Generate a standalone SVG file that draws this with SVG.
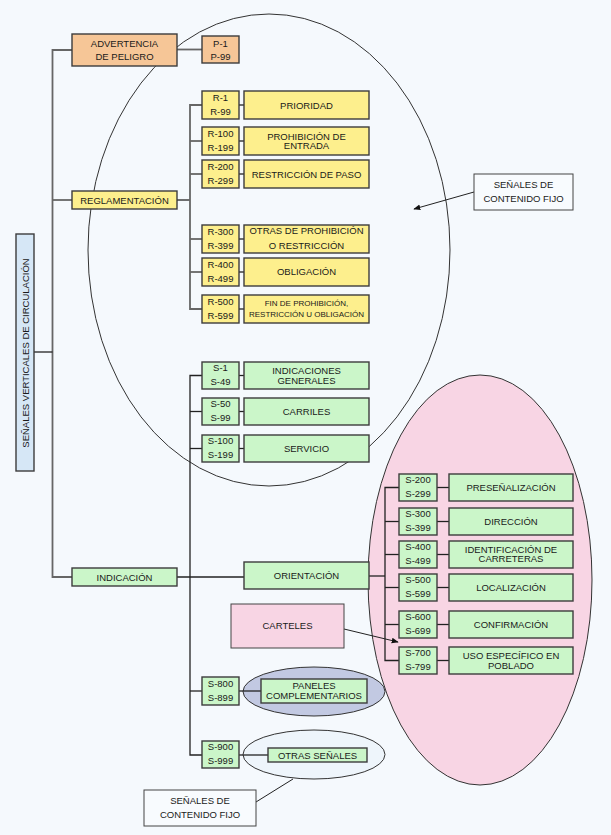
<svg xmlns="http://www.w3.org/2000/svg" width="611" height="835" viewBox="0 0 611 835">
<defs>
<style>
text{font-family:"Liberation Sans",Arial,sans-serif;font-size:9.5px;fill:#1a1a1a;text-anchor:middle}
.b{stroke:#3c3c3c;stroke-width:1.4}
.o{fill:#f6c697}
.y{fill:#fdef8d}
.g{fill:#cbf6c9}
.p{fill:#f8d5e4}
.w{fill:#f7fafd}
.t{fill:#d6e7f6}
.ln{stroke:#222;stroke-width:1.3;fill:none}
.gl{stroke:#666;stroke-width:1.8;fill:none}
.s{font-size:8px}
</style>
<marker id="ah" viewBox="0 0 10 10" refX="9" refY="5" markerWidth="7" markerHeight="7" orient="auto">
<path d="M0,1 L10,5 L0,9 z" fill="#111"/>
</marker>
</defs>
<rect x="0" y="0" width="611" height="835" fill="#f5f9fd"/>

<g id="ellipses">
<ellipse cx="480" cy="580" rx="112" ry="205" fill="#f8d5e4" stroke="#333" stroke-width="1"/>
<ellipse cx="269" cy="250" rx="181" ry="236" fill="none" stroke="#333" stroke-width="1"/>
<ellipse cx="314" cy="691.5" rx="71" ry="24.5" fill="#c2c9e2" stroke="#333" stroke-width="1"/>
<ellipse cx="314" cy="754.5" rx="71" ry="24.5" fill="#eef5fb" stroke="#333" stroke-width="1"/>
</g>

<g id="connectors">
<polyline class="gl" points="72,50 52.5,50 52.5,577 72,577"/>
<line class="gl" x1="52.5" y1="200" x2="72" y2="200"/>
<line class="ln" x1="34" y1="352" x2="52.5" y2="352"/>
<line class="gl" x1="177" y1="49.5" x2="202" y2="49.5"/>
<line class="ln" x1="177" y1="200" x2="190" y2="200" stroke-width="2.2"/>
<polyline class="gl" points="202,105 190,105 190,309 202,309"/>
<line class="gl" x1="190" y1="141" x2="202" y2="141"/>
<line class="gl" x1="190" y1="174" x2="202" y2="174"/>
<line class="gl" x1="190" y1="239" x2="202" y2="239"/>
<line class="gl" x1="190" y1="272" x2="202" y2="272"/>
<g class="ln">
<line x1="239" y1="105" x2="244" y2="105"/>
<line x1="239" y1="141" x2="244" y2="141"/>
<line x1="239" y1="174" x2="244" y2="174"/>
<line x1="239" y1="239" x2="244" y2="239"/>
<line x1="239" y1="272" x2="244" y2="272"/>
<line x1="239" y1="309" x2="244" y2="309"/>
<polyline points="202,375.5 190,375.5 190,755 202,755"/>
<line x1="190" y1="411.5" x2="202" y2="411.5"/>
<line x1="190" y1="448.5" x2="202" y2="448.5"/>
<line x1="190" y1="691" x2="202" y2="691"/>
<line x1="177" y1="577" x2="244" y2="577"/>
<line x1="239" y1="375.5" x2="244" y2="375.5"/>
<line x1="239" y1="411.5" x2="244" y2="411.5"/>
<line x1="239" y1="448.5" x2="244" y2="448.5"/>
<line x1="369" y1="576" x2="385" y2="576"/>
<polyline points="399,487.5 385,487.5 385,660.5 399,660.5"/>
<line x1="385" y1="521.5" x2="399" y2="521.5"/>
<line x1="385" y1="554.5" x2="399" y2="554.5"/>
<line x1="385" y1="587.5" x2="399" y2="587.5"/>
<line x1="385" y1="624.5" x2="399" y2="624.5"/>
<line x1="437" y1="487.5" x2="449" y2="487.5"/>
<line x1="437" y1="521.5" x2="449" y2="521.5"/>
<line x1="437" y1="554.5" x2="449" y2="554.5"/>
<line x1="437" y1="587.5" x2="449" y2="587.5"/>
<line x1="437" y1="624.5" x2="449" y2="624.5"/>
<line x1="437" y1="660.5" x2="449" y2="660.5"/>
<line x1="239" y1="691" x2="261" y2="691"/>
<line x1="239" y1="755" x2="268" y2="755"/>
</g>
<line x1="474" y1="192" x2="414" y2="209" stroke="#222" stroke-width="1" marker-end="url(#ah)"/>
<line x1="344" y1="629" x2="398" y2="642" stroke="#222" stroke-width="1" marker-end="url(#ah)"/>
<line x1="256" y1="802" x2="293" y2="779" stroke="#222" stroke-width="1"/>
</g>

<g id="n-root"><rect class="b t" x="16" y="234" width="18" height="237"/><text transform="translate(28.5,353) rotate(-90)">SEÑALES VERTICALES DE CIRCULACIÓN</text></g>

<g id="n-advertencia"><rect class="b o" x="72" y="34" width="105" height="32"/><text x="124.5" y="47">ADVERTENCIA</text><text x="124.5" y="60">DE PELIGRO</text></g>
<g id="n-p"><rect class="b o" x="202" y="36" width="37" height="27"/><text x="220.5" y="47">P-1</text><text x="220.5" y="59.5">P-99</text></g>

<g id="n-reglamentacion"><rect class="b y" x="72" y="191" width="105" height="18"/><text x="124.5" y="203.5">REGLAMENTACIÓN</text></g>

<g id="n-r1"><rect class="b y" x="202" y="91" width="37" height="28"/><text x="220.5" y="100.5">R-1</text><text x="220.5" y="115">R-99</text></g>
<g id="n-prioridad"><rect class="b y" x="244" y="91" width="125" height="28"/><text x="306.5" y="108.5">PRIORIDAD</text></g>
<g id="n-r100"><rect class="b y" x="202" y="127" width="37" height="28"/><text x="220.5" y="136.5">R-100</text><text x="220.5" y="151">R-199</text></g>
<g id="n-prohibicion"><rect class="b y" x="244" y="127" width="125" height="28"/><text x="306.5" y="139.5">PROHIBICIÓN DE</text><text x="306.5" y="149">ENTRADA</text></g>
<g id="n-r200"><rect class="b y" x="202" y="160" width="37" height="28"/><text x="220.5" y="169.5">R-200</text><text x="220.5" y="184">R-299</text></g>
<g id="n-restriccion"><rect class="b y" x="244" y="160" width="125" height="28"/><text x="306.5" y="177.5">RESTRICCIÓN DE PASO</text></g>
<g id="n-r300"><rect class="b y" x="202" y="225" width="37" height="28"/><text x="220.5" y="234.5">R-300</text><text x="220.5" y="249">R-399</text></g>
<g id="n-otras"><rect class="b y" x="244" y="225" width="125" height="28"/><text x="306.5" y="234">OTRAS DE PROHIBICIÓN</text><text x="306.5" y="249">O RESTRICCIÓN</text></g>
<g id="n-r400"><rect class="b y" x="202" y="258" width="37" height="28"/><text x="220.5" y="267.5">R-400</text><text x="220.5" y="282">R-499</text></g>
<g id="n-obligacion"><rect class="b y" x="244" y="258" width="125" height="28"/><text x="306.5" y="275">OBLIGACIÓN</text></g>
<g id="n-r500"><rect class="b y" x="202" y="295" width="37" height="28"/><text x="220.5" y="304.5">R-500</text><text x="220.5" y="319">R-599</text></g>
<g id="n-fin"><rect class="b y" x="244" y="295" width="125" height="28"/><text class="s" x="306.5" y="306">FIN DE PROHIBICIÓN,</text><text class="s" x="306.5" y="317">RESTRICCIÓN U OBLIGACIÓN</text></g>

<g id="n-fijo1"><rect x="474" y="174" width="99" height="36" fill="#f8fbfe" stroke="#444" stroke-width="1"/><text x="523.5" y="187.5">SEÑALES DE</text><text x="523.5" y="201.5">CONTENIDO FIJO</text></g>

<g id="n-s1"><rect class="b g" x="202" y="362" width="37" height="27"/><text x="220.5" y="370.5">S-1</text><text x="220.5" y="385">S-49</text></g>
<g id="n-generales"><rect class="b g" x="244" y="362" width="125" height="27"/><text x="306.5" y="374">INDICACIONES</text><text x="306.5" y="383.5">GENERALES</text></g>
<g id="n-s50"><rect class="b g" x="202" y="398" width="37" height="27"/><text x="220.5" y="406.5">S-50</text><text x="220.5" y="421">S-99</text></g>
<g id="n-carriles"><rect class="b g" x="244" y="398" width="125" height="27"/><text x="306.5" y="414.5">CARRILES</text></g>
<g id="n-s100"><rect class="b g" x="202" y="435" width="37" height="27"/><text x="220.5" y="443.5">S-100</text><text x="220.5" y="458">S-199</text></g>
<g id="n-servicio"><rect class="b g" x="244" y="435" width="125" height="27"/><text x="306.5" y="451.5">SERVICIO</text></g>

<g id="n-indicacion"><rect class="b g" x="72" y="568" width="105" height="18"/><text x="124.5" y="580.5">INDICACIÓN</text></g>
<g id="n-orientacion"><rect class="b g" x="244" y="562" width="125" height="27"/><text x="306.5" y="579">ORIENTACIÓN</text></g>
<g id="n-carteles"><rect x="231" y="604" width="113" height="44" fill="#f8d5e4" stroke="#444" stroke-width="1"/><text x="287.5" y="629">CARTELES</text></g>

<g id="n-s200"><rect class="b g" x="399" y="474" width="38" height="27"/><text x="418" y="482.5">S-200</text><text x="418" y="497">S-299</text></g>
<g id="n-presenal"><rect class="b g" x="449" y="474" width="124" height="27"/><text x="511" y="490.5">PRESEÑALIZACIÓN</text></g>
<g id="n-s300"><rect class="b g" x="399" y="508" width="38" height="27"/><text x="418" y="516.5">S-300</text><text x="418" y="531">S-399</text></g>
<g id="n-direccion"><rect class="b g" x="449" y="508" width="124" height="27"/><text x="511" y="524.5">DIRECCIÓN</text></g>
<g id="n-s400"><rect class="b g" x="399" y="541" width="38" height="27"/><text x="418" y="549.5">S-400</text><text x="418" y="564">S-499</text></g>
<g id="n-identificacion"><rect class="b g" x="449" y="541" width="124" height="27"/><text x="511" y="552.5">IDENTIFICACIÓN DE</text><text x="511" y="562">CARRETERAS</text></g>
<g id="n-s500"><rect class="b g" x="399" y="574" width="38" height="27"/><text x="418" y="582.5">S-500</text><text x="418" y="597">S-599</text></g>
<g id="n-localizacion"><rect class="b g" x="449" y="574" width="124" height="27"/><text x="511" y="590.5">LOCALIZACIÓN</text></g>
<g id="n-s600"><rect class="b g" x="399" y="611" width="38" height="27"/><text x="418" y="619.5">S-600</text><text x="418" y="634">S-699</text></g>
<g id="n-confirmacion"><rect class="b g" x="449" y="611" width="124" height="27"/><text x="511" y="627.5">CONFIRMACIÓN</text></g>
<g id="n-s700"><rect class="b g" x="399" y="647" width="38" height="27"/><text x="418" y="655.5">S-700</text><text x="418" y="670">S-799</text></g>
<g id="n-uso"><rect class="b g" x="449" y="647" width="124" height="27"/><text x="511" y="659">USO ESPECÍFICO EN</text><text x="511" y="669">POBLADO</text></g>

<g id="n-s800"><rect class="b g" x="202" y="677" width="37" height="28"/><text x="220.5" y="687">S-800</text><text x="220.5" y="701">S-899</text></g>
<g id="n-paneles"><rect class="b g" x="261" y="679" width="106" height="24"/><text x="314" y="689">PANELES</text><text x="314" y="699">COMPLEMENTARIOS</text></g>
<g id="n-s900"><rect class="b g" x="202" y="741" width="37" height="27"/><text x="220.5" y="750">S-900</text><text x="220.5" y="764">S-999</text></g>
<g id="n-otrassenales"><rect class="b g" x="268" y="748" width="99" height="14"/><text x="317.5" y="758.5">OTRAS SEÑALES</text></g>

<g id="n-fijo2"><rect x="144" y="790" width="112" height="36" fill="#f8fbfe" stroke="#444" stroke-width="1"/><text x="200" y="804">SEÑALES DE</text><text x="200" y="818">CONTENIDO FIJO</text></g>
</svg>
